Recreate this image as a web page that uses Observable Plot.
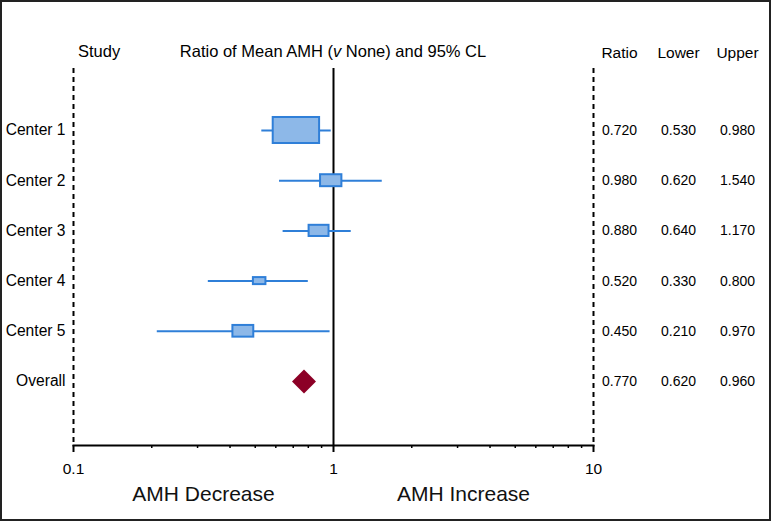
<!DOCTYPE html>
<html>
<head>
<meta charset="utf-8">
<script src="https://cdn.jsdelivr.net/npm/d3@7"></script>
<script src="https://cdn.jsdelivr.net/npm/@observablehq/plot@0.6"></script>
<style>
  html, body { margin: 0; padding: 0; background: #fff; }
  #wrap { position: relative; width: 771px; height: 521px; font-family: "Liberation Sans", Arial, sans-serif; }
  #wrap svg { position: absolute; left: 0; top: 0; }
  .hdr { position: absolute; font-size: 16.5px; line-height: 16.5px; color: #000; white-space: nowrap; }
  #border { position: absolute; left: 0; top: 0; width: 771px; height: 521px; box-sizing: border-box; border: 2px solid #222; pointer-events: none; }
</style>
</head>
<body>
<div id="wrap">
  <div class="hdr" style="left:78px; top:43px;">Study</div>
  <div class="hdr" style="left:333px; top:43px; transform: translateX(-50%);">Ratio of Mean AMH (<i>v</i> None) and 95% CL</div>
  <div id="border"></div>
</div>
<script>
// ---- data ----
const studies = ["Center 1", "Center 2", "Center 3", "Center 4", "Center 5"];
const ratio = [0.720, 0.980, 0.880, 0.520, 0.450];
const lower = [0.530, 0.620, 0.640, 0.330, 0.210];
const upper = [0.980, 1.540, 1.170, 0.800, 0.970];
const weight = [1.00, 0.46, 0.43, 0.27, 0.45];   // relative box size (study weight)
const overallLabel = "Overall";
const overallRatio = 0.770;
const overallLower = 0.620;
const overallUpper = 0.960;
const rowLabels = [...studies, overallLabel];
const columns = ["Ratio", "Lower", "Upper"];
const majorTicks = [0.1, 1, 10];
const minorTicks = [0.2, 0.3, 0.4, 0.5, 0.6, 0.7, 0.8, 0.9, 2, 3, 4, 5, 6, 7, 8, 9];
const directionLabels = [
  {x: Math.sqrt(0.1), label: "AMH Decrease"},
  {x: Math.sqrt(10), label: "AMH Increase"}
];

// ---- derived tables ----
const rows = studies.map((s, i) => ({study: s, i, ratio: ratio[i], lower: lower[i], upper: upper[i], w: weight[i]}));
const overall = [{study: overallLabel, i: rowLabels.indexOf(overallLabel), ratio: overallRatio, lower: overallLower, upper: overallUpper}];
const tableRows = [];
[...rows, ...overall].forEach(r => {
  tableRows.push({col: "Ratio", i: r.i, v: r.ratio});
  tableRows.push({col: "Lower", i: r.i, v: r.lower});
  tableRows.push({col: "Upper", i: r.i, v: r.upper});
});

const BLUE = "#2f7fd8";
const FILL = "#8db8e8";
const RED = "#8c0026";
const HW = 0.0892;  // half box width (decades) at weight 1
const HH = 0.259;   // half box height (rows) at weight 1
const yDomain = [-1.235, 6.275];
const font = "Liberation Sans, Arial, sans-serif";

const main = Plot.plot({
  width: 771, height: 521,
  marginLeft: 73, marginRight: 178, marginTop: 68, marginBottom: 76,
  style: {fontFamily: font, fontSize: "14px", color: "#000", background: "transparent"},
  x: {type: "log", domain: [0.1, 10]},
  y: {domain: yDomain, reverse: true},
  marks: [
    Plot.ruleX([0.1, 10], {stroke: "#000", strokeWidth: 2, strokeDasharray: "5,4"}),
    Plot.ruleX([1], {stroke: "#000", strokeWidth: 2}),
    Plot.frame({anchor: "bottom", stroke: "#000", strokeWidth: 2}),
    Plot.axisX(minorTicks, {tickSize: 3, tickFormat: () => "", strokeWidth: 1.5, label: null}),
    Plot.axisX(majorTicks, {tickSize: 7, tickPadding: 10, tickFormat: d => String(d), fontSize: 15.5, strokeWidth: 2, label: null}),
    Plot.axisY(d3.range(rowLabels.length), {tickSize: 0, tickPadding: 8, tickFormat: i => rowLabels[i], fontSize: 15.6, label: null}),
    Plot.ruleY(rows, {y: "i", x1: "lower", x2: "upper", stroke: BLUE, strokeWidth: 2}),
    Plot.rect(rows, {
      x1: d => d.ratio / Math.pow(10, HW * d.w),
      x2: d => d.ratio * Math.pow(10, HW * d.w),
      y1: d => d.i - HH * d.w,
      y2: d => d.i + HH * d.w,
      fill: FILL, stroke: BLUE, strokeWidth: 2
    }),
    Plot.dot(overall, {x: "ratio", y: "i", symbol: "diamond2", r: 10.8, fill: RED, stroke: "none"}),
    Plot.text(directionLabels, {x: "x", text: "label", frameAnchor: "bottom", dy: 49, fontSize: 21, lineAnchor: "middle", fill: "#111"})
  ]
});

const table = Plot.plot({
  width: 771, height: 521,
  marginLeft: 618, marginRight: 34, marginTop: 68, marginBottom: 76,
  style: {fontFamily: font, fontSize: "14px", color: "#000", background: "transparent"},
  x: {type: "point", domain: columns, padding: 0},
  y: {domain: yDomain, reverse: true, axis: null},
  marks: [
    Plot.axisX({anchor: "top", tickSize: 0, tickPadding: 11, fontSize: 15.5, label: null}),
    Plot.text(tableRows, {x: "col", y: "i", text: d => d.v.toFixed(3), fontSize: 14})
  ]
});

const wrap = document.getElementById("wrap");
wrap.insertBefore(table, wrap.firstChild);
wrap.insertBefore(main, wrap.firstChild);
</script>
</body>
</html>
